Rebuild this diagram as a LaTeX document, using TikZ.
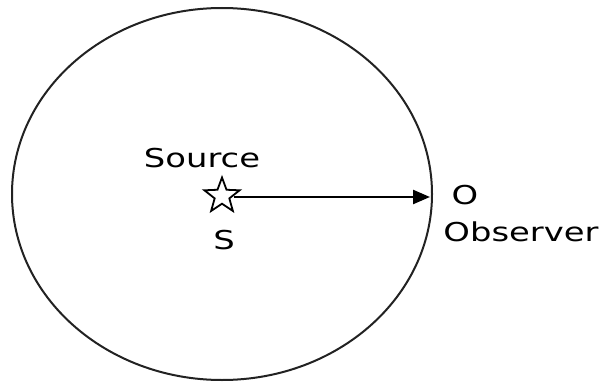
\documentclass[tikz,border=0pt]{standalone}
\usepackage{fontspec}
\setmainfont[FakeStretch=1.3]{DejaVu Sans}
\usetikzlibrary{positioning, arrows.meta, shapes.geometric}
\definecolor{wave}{HTML}{222222}

\begin{document}
\begin{tikzpicture}[
    x=1pt, y=-1pt,
    >={Triangle[length=17pt, width=14pt]},
    lbl/.style={font=\fontsize{26}{30}\selectfont, inner sep=0pt},
    srcstar/.style={star, star points=5, star point ratio=2.4,
                    minimum size=37pt, inner sep=0pt, draw, line width=1.8pt},
]
\useasboundingbox (0,0) rectangle (607,385);

% Wavefront round the source
\node[ellipse, draw=wave, line width=2pt, minimum width=420pt,
      minimum height=372pt, inner sep=0pt] (front) at (222,194) {};

% Source and observer
\node[srcstar] (src) at (222,196) {};
\coordinate (obs) at (430,197);

\node[lbl] (srclbl) at (202,158) {Source};
\node[lbl] (s) at (224,240) {S};
\node[lbl] (o) at (465,195) {O};
\node[lbl] (obslbl) at (521,232) {Observer};

% Line of sight
\draw[->, line width=2.4pt] (src.east |- obs) -- (obs);

\end{tikzpicture}
\end{document}
